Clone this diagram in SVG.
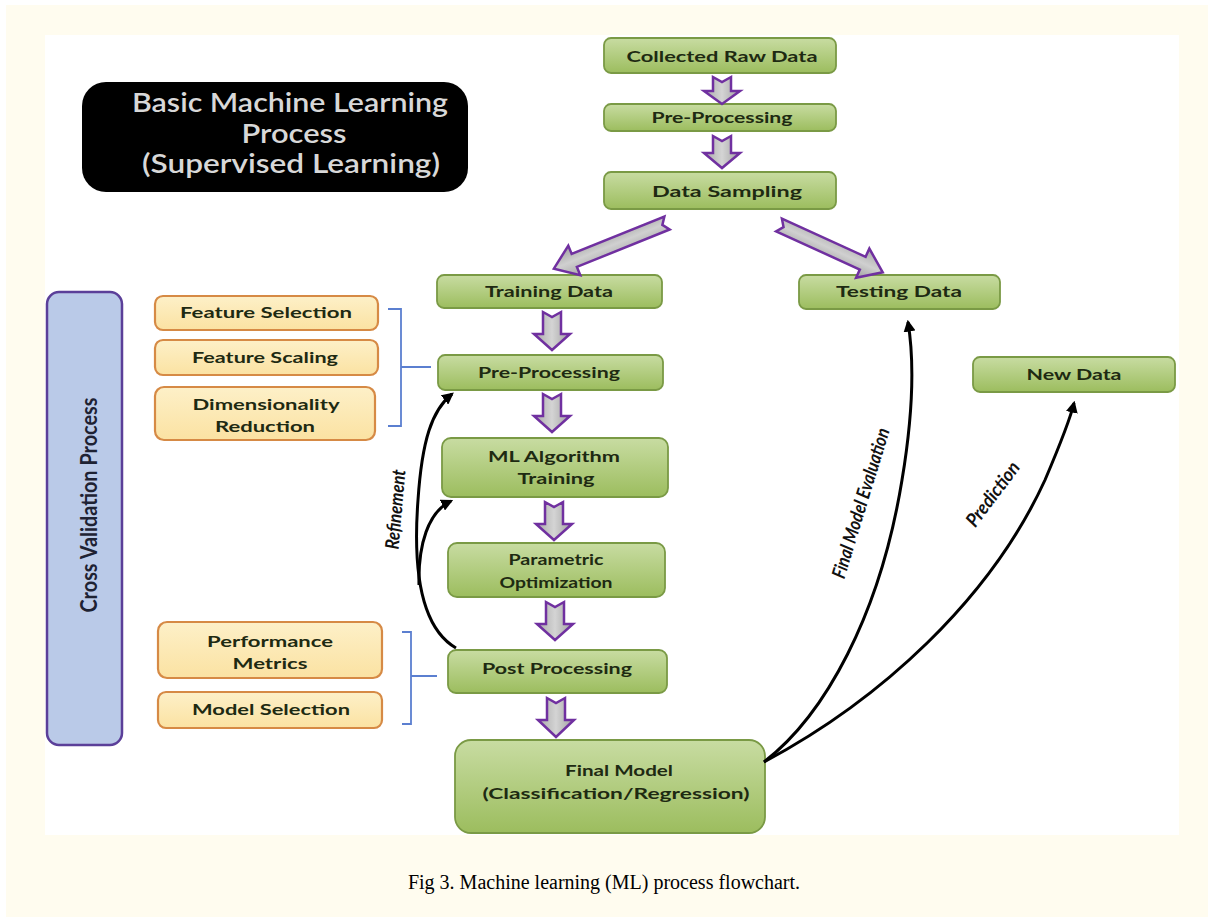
<svg xmlns="http://www.w3.org/2000/svg" width="1208" height="917" viewBox="0 0 1208 917">
<defs>
<linearGradient id="gGreen" x1="0" y1="0" x2="0" y2="1">
<stop offset="0" stop-color="#C8DCA2"/><stop offset="1" stop-color="#9CBD5E"/>
</linearGradient>
<linearGradient id="gYellow" x1="0" y1="0" x2="0" y2="1">
<stop offset="0" stop-color="#FDF0C8"/><stop offset="1" stop-color="#FBE2A2"/>
</linearGradient>
<linearGradient id="gArrow" x1="0" y1="0" x2="1" y2="0">
<stop offset="0" stop-color="#A8A8A8"/><stop offset="0.5" stop-color="#D4D4D4"/><stop offset="1" stop-color="#A0A0A0"/>
</linearGradient>
<linearGradient id="gArrowD" x1="0" y1="0" x2="0" y2="1">
<stop offset="0" stop-color="#A8A8A8"/><stop offset="0.5" stop-color="#D0D0D0"/><stop offset="1" stop-color="#A0A0A0"/>
</linearGradient>
<marker id="mHead" viewBox="0 0 10 10" refX="8" refY="5" markerWidth="4" markerHeight="4" orient="auto" markerUnits="strokeWidth">
<path d="M0,0 L10,5 L0,10 Z" fill="#000"/>
</marker>
<style>
.green{fill:url(#gGreen);stroke:#7A9A45;stroke-width:1.8}
.yellow{fill:url(#gYellow);stroke:#D68A45;stroke-width:2.2}
.lbl{font-family:Lato,"Liberation Sans",sans-serif;font-weight:bold;font-size:16px;fill:#1E2A12;text-anchor:middle}
.blk{fill:url(#gArrow);stroke:#7030A0;stroke-width:2.5;stroke-linejoin:miter}
.blkd{fill:url(#gArrowD);stroke:#7030A0;stroke-width:2.5}
.curve{fill:none;stroke:#000;stroke-width:3;marker-end:url(#mHead)}
.brk{fill:none;stroke:#5B7FD0;stroke-width:1.8}
.it{font-family:Lato,"Liberation Sans",sans-serif;font-style:italic;font-weight:bold;font-size:19px;fill:#111;text-anchor:middle}
.title{font-family:Lato,"Liberation Sans",sans-serif;font-weight:600;font-size:26px;fill:#D8D8D8;text-anchor:middle}
</style>
</defs>
<rect x="0" y="0" width="1208" height="917" fill="#FFFFFF"/>
<rect x="6" y="5" width="1202" height="912" fill="#FFFCEF"/>
<rect x="45" y="35" width="1134" height="800" fill="#FFFFFF"/>

<g id="title">
<rect x="82" y="82" width="386" height="110" rx="24" fill="#000"/>
<text class="title" x="290" y="112" textLength="316" lengthAdjust="spacingAndGlyphs">Basic Machine Learning</text>
<text class="title" x="294" y="143" textLength="105" lengthAdjust="spacingAndGlyphs">Process</text>
<text class="title" x="291" y="173" textLength="298" lengthAdjust="spacingAndGlyphs">(Supervised Learning)</text>
</g>

<g id="cv">
<rect x="47" y="292" width="75" height="453" rx="12" fill="#BACAE8" stroke="#5B3F99" stroke-width="2.5"/>
<text transform="translate(97,505) rotate(-90)" x="0" y="0" font-family="Lato,'Liberation Sans',sans-serif" font-weight="bold" font-size="22" fill="#1E2233" text-anchor="middle" textLength="215" lengthAdjust="spacingAndGlyphs">Cross Validation Process</text>
</g>

<g id="n-raw"><rect class="green" x="604" y="38" width="232" height="35" rx="7"/><text class="lbl" x="722" y="62" textLength="191" lengthAdjust="spacingAndGlyphs">Collected Raw Data</text></g>
<g id="n-pre1"><rect class="green" x="604" y="104" width="232" height="27" rx="7"/><text class="lbl" x="722" y="123" textLength="141" lengthAdjust="spacingAndGlyphs">Pre-Processing</text></g>
<g id="n-samp"><rect class="green" x="604" y="172" width="232" height="37" rx="7"/><text class="lbl" x="727" y="197" textLength="150" lengthAdjust="spacingAndGlyphs">Data Sampling</text></g>
<g id="n-train"><rect class="green" x="437" y="275" width="225" height="33" rx="7"/><text class="lbl" x="549" y="297" textLength="128" lengthAdjust="spacingAndGlyphs">Training Data</text></g>
<g id="n-test"><rect class="green" x="799" y="275" width="201" height="34" rx="7"/><text class="lbl" x="899" y="297" textLength="126" lengthAdjust="spacingAndGlyphs">Testing Data</text></g>
<g id="n-new"><rect class="green" x="973" y="357" width="202" height="35" rx="7"/><text class="lbl" x="1074" y="380" textLength="95" lengthAdjust="spacingAndGlyphs">New Data</text></g>
<g id="n-pre2"><rect class="green" x="438" y="355" width="225" height="35" rx="7"/><text class="lbl" x="549" y="378" textLength="142" lengthAdjust="spacingAndGlyphs">Pre-Processing</text></g>
<g id="n-ml"><rect class="green" x="442" y="438" width="226" height="59" rx="9"/><text class="lbl" x="554" y="462" textLength="132" lengthAdjust="spacingAndGlyphs">ML Algorithm</text><text class="lbl" x="556" y="484" textLength="77" lengthAdjust="spacingAndGlyphs">Training</text></g>
<g id="n-param"><rect class="green" x="448" y="543" width="217" height="54" rx="9"/><text class="lbl" x="556" y="565" textLength="95" lengthAdjust="spacingAndGlyphs">Parametric</text><text class="lbl" x="556" y="588" textLength="113" lengthAdjust="spacingAndGlyphs">Optimization</text></g>
<g id="n-post"><rect class="green" x="448" y="650" width="219" height="43" rx="8"/><text class="lbl" x="557" y="674" textLength="150" lengthAdjust="spacingAndGlyphs">Post Processing</text></g>
<g id="n-final"><rect class="green" x="455" y="740" width="310" height="93" rx="16"/><text class="lbl" x="619" y="776" textLength="108" lengthAdjust="spacingAndGlyphs">Final Model</text><text class="lbl" x="616" y="799" textLength="267" lengthAdjust="spacingAndGlyphs">(Classification/Regression)</text></g>

<g id="n-fsel"><rect class="yellow" x="155" y="296" width="223" height="34" rx="8"/><text class="lbl" x="266" y="318" textLength="172" lengthAdjust="spacingAndGlyphs">Feature Selection</text></g>
<g id="n-fscale"><rect class="yellow" x="155" y="340" width="223" height="35" rx="8"/><text class="lbl" x="265" y="363" textLength="146" lengthAdjust="spacingAndGlyphs">Feature Scaling</text></g>
<g id="n-dim"><rect class="yellow" x="155" y="387" width="220" height="53" rx="9"/><text class="lbl" x="266" y="410" textLength="147" lengthAdjust="spacingAndGlyphs">Dimensionality</text><text class="lbl" x="265" y="432" textLength="100" lengthAdjust="spacingAndGlyphs">Reduction</text></g>
<g id="n-perf"><rect class="yellow" x="158" y="622" width="224" height="56" rx="9"/><text class="lbl" x="270" y="647" textLength="126" lengthAdjust="spacingAndGlyphs">Performance</text><text class="lbl" x="270" y="669" textLength="75" lengthAdjust="spacingAndGlyphs">Metrics</text></g>
<g id="n-msel"><rect class="yellow" x="158" y="692" width="224" height="36" rx="8"/><text class="lbl" x="271" y="715" textLength="158" lengthAdjust="spacingAndGlyphs">Model Selection</text></g>

<g id="connectors">
<path class="blk" d="M713,77 L722,82 L731,77 L731,91 L740,91 L722,104 L704,91 L713,91 Z"/>
<path class="blk" d="M713,136 L722,141 L731,136 L731,153 L740,153 L722,168 L704,153 L713,153 Z"/>
<path class="blk" d="M543,312 L552,317 L561,312 L561,334 L570,334 L552,350 L534,334 L543,334 Z"/>
<path class="blk" d="M543,394 L552,399 L561,394 L561,416 L570,416 L552,432 L534,416 L543,416 Z"/>
<path class="blk" d="M545,502 L554,507 L563,502 L563,524 L572,524 L554,540 L536,524 L545,524 Z"/>
<path class="blk" d="M546,602 L555,607 L564,602 L564,624 L573,624 L555,640 L537,624 L546,624 Z"/>
<path class="blk" d="M547,698 L556,703 L565,698 L565,720 L574,720 L556,737 L538,720 L547,720 Z"/>
<path class="blkd" transform="translate(667,223) rotate(158)" d="M0,-7 L100,-7 L100,-16 L122,0 L100,16 L100,7 L0,7 L5,0 Z"/>
<path class="blkd" transform="translate(779,225) rotate(24.5)" d="M0,-7 L92,-7 L92,-16 L114,0 L92,16 L92,7 L0,7 L5,0 Z"/>
<path class="brk" d="M388,309 L401,309 L401,426 L388,426 M401,367 L431,367"/>
<path class="brk" d="M402,632 L411,632 L411,724 L402,724 M411,676 L437,676"/>
<path class="curve" d="M456,648 C425,630 412,580 418,500 C422,440 432,410 452,394"/>
<path class="curve" d="M419,585 C418,545 428,512 451,501"/>
<path class="curve" d="M764,762 C825,715 880,615 902,480 C912,420 915,365 908,322"/>
<path class="curve" d="M764,762 C880,700 990,600 1045,480 C1062,440 1070,420 1074,403"/>
<text class="it" transform="translate(402,510) rotate(-85)" textLength="80" lengthAdjust="spacingAndGlyphs">Refinement</text>
<text class="it" transform="translate(867,505) rotate(-73)" textLength="156" lengthAdjust="spacingAndGlyphs">Final Model Evaluation</text>
<text class="it" transform="translate(998,498) rotate(-53)" textLength="76" lengthAdjust="spacingAndGlyphs">Prediction</text>
</g>

<text x="604" y="889" font-family="'Liberation Serif',serif" font-size="20" fill="#000" text-anchor="middle">Fig 3. Machine learning (ML) process flowchart.</text>
</svg>
